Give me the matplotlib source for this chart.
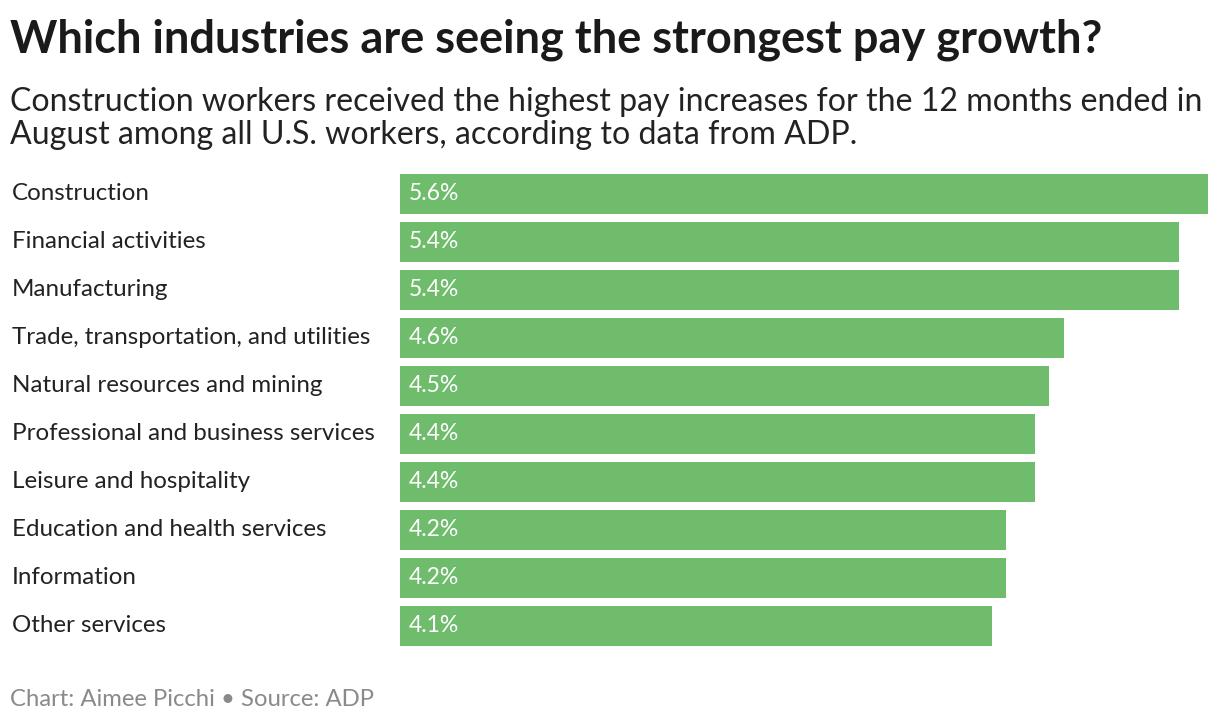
import matplotlib as mpl
import matplotlib.pyplot as plt

mpl.rcParams["font.family"] = ["Lato", "DejaVu Sans"]

industries = [
    "Construction",
    "Financial activities",
    "Manufacturing",
    "Trade, transportation, and utilities",
    "Natural resources and mining",
    "Professional and business services",
    "Leisure and hospitality",
    "Education and health services",
    "Information",
    "Other services",
]
pay_growth = [5.6, 5.4, 5.4, 4.6, 4.5, 4.4, 4.4, 4.2, 4.2, 4.1]

GREEN = "#70BC6D"
W, H = 1220, 726

fig = plt.figure(figsize=(W / 100, H / 100), dpi=100)
ax = fig.add_axes([400 / W, 1 - 650 / H, 808 / W, 480 / H])

ypos = list(range(len(industries)))
ax.barh(ypos, pay_growth, height=40 / 48, color=GREEN)
ax.set_ylim(len(industries) - 0.5, -0.5)
ax.set_xlim(0, 5.6)
ax.axis("off")

for y, v, name in zip(ypos, pay_growth, industries):
    ax.text(0.06, y, f"{v}%", color="white", fontsize=16.5, va="center", ha="left")
    fig.text(12 / W, 1 - (193 + 48 * y) / H, name, fontsize=17.4, va="center",
             ha="left", color="#222222")

fig.text(10 / W, 1 - 40 / H, "Which industries are seeing the strongest pay growth?",
         fontsize=32.5, fontweight="bold", va="center", ha="left", color="#1a1a1a")
fig.text(10 / W, 1 - 102 / H,
         "Construction workers received the highest pay increases for the 12 months ended in",
         fontsize=23.1, va="center", ha="left", color="#222222")
fig.text(10 / W, 1 - 135 / H,
         "August among all U.S. workers, according to data from ADP.",
         fontsize=23.1, va="center", ha="left", color="#222222")
fig.text(10 / W, 1 - 699 / H, "Chart: Aimee Picchi \u2022 Source: ADP",
         fontsize=17.2, va="center", ha="left", color="#8a8a8a")

fig.savefig("out.png", dpi=100)
